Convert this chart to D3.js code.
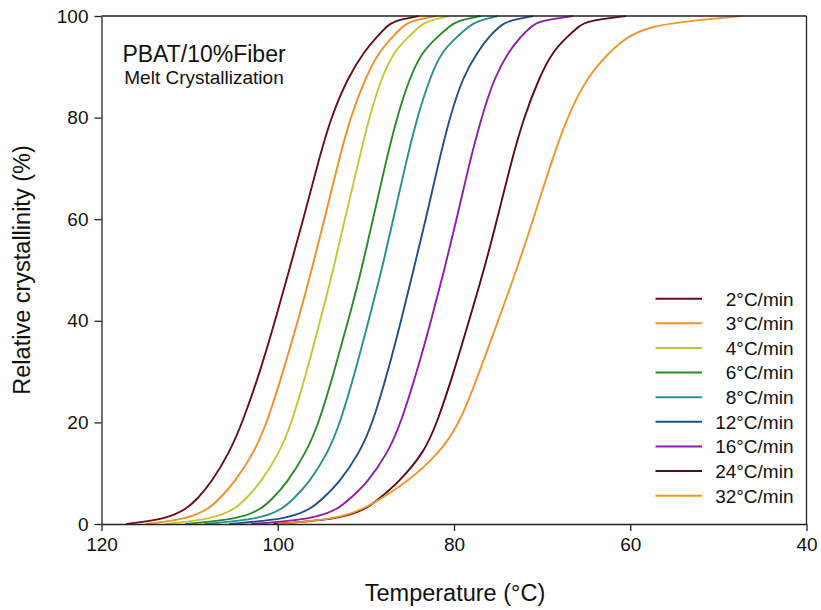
<!DOCTYPE html>
<html>
<head>
<meta charset="utf-8">
<script src="https://cdn.jsdelivr.net/npm/d3@7"></script>
<style>
  html, body { margin: 0; padding: 0; background: #fff; }
  svg { display: block; font-family: "Liberation Sans", Arial, sans-serif; }
</style>
</head>
<body>
<svg id="chart" width="821" height="610"></svg>
<script>
// Relative crystallinity levels (%) at which each cooling-rate curve is sampled
const levels = [0, 1, 3, 5, 8, 14, 20, 30, 40, 50, 60, 70, 80, 88, 93, 96, 98, 99, 100];

// Temperature (°C) reached at each crystallinity level, per cooling rate
const rate2  = [117.2, 112.6, 110.3, 109.1, 107.6, 105.5, 104.0, 102.0, 100.3, 98.7, 97.1, 95.6, 94.0, 92.0, 90.2, 88.7, 87.6, 86.9, 84.0];
const rate3  = [115.0, 110.2, 107.8, 106.6, 105.0, 102.7, 101.2, 99.4, 97.7, 96.15, 94.7, 93.3, 91.8, 90.0, 88.5, 86.9, 85.8, 85.0, 82.0];
const rate4  = [112.8, 107.3, 104.8, 103.6, 102.0, 99.8, 98.4, 96.7, 95.2, 93.7, 92.4, 91.0, 89.65, 88.2, 86.8, 85.1, 83.9, 83.1, 80.5];
const rate6  = [110.5, 104.3, 101.8, 100.6, 99.0, 96.8, 95.3, 93.6, 92.0, 90.5, 89.2, 87.9, 86.5, 85.0, 83.6, 81.8, 80.5, 79.7, 77.0];
const rate8  = [108.3, 101.9, 99.4, 98.2, 96.5, 94.3, 92.9, 91.2, 89.7, 88.2, 86.9, 85.6, 84.2, 82.7, 81.4, 79.6, 78.3, 77.4, 75.0];
const rate12 = [105.5, 98.8, 96.2, 94.9, 93.1, 90.7, 89.2, 87.5, 86.0, 84.6, 83.2, 81.9, 80.5, 79.0, 77.3, 76.0, 74.8, 74.0, 71.0];
const rate16 = [103.0, 95.8, 93.1, 91.8, 89.9, 87.5, 86.0, 84.2, 82.6, 81.1, 79.7, 78.4, 76.9, 75.4, 73.8, 72.4, 71.2, 70.4, 66.5];
const rate24 = [100.5, 92.8, 89.9, 88.5, 86.4, 83.4, 81.9, 80.0, 78.3, 76.6, 75.1, 73.7, 72.1, 70.3, 68.8, 67.1, 65.8, 65.0, 60.5];
const rate32 = [100.0, 93.2, 90.2, 88.3, 85.5, 81.6, 79.3, 77.1, 75.0, 72.9, 71.0, 69.2, 67.2, 64.9, 62.3, 60.3, 57.6, 53.5, 47.3];

const seriesNames = ["2°C/min", "3°C/min", "4°C/min", "6°C/min", "8°C/min",
                     "12°C/min", "16°C/min", "24°C/min", "32°C/min"];
const seriesTemps = [rate2, rate3, rate4, rate6, rate8, rate12, rate16, rate24, rate32];
const seriesColors = ["#6b0e1c", "#f0902a", "#c3c832", "#2a8a2a", "#27908e",
                      "#1f4f86", "#8e1ea6", "#5e0a18", "#f0962c"];

const xTicks = [120, 100, 80, 60, 40];
const yTicks = [0, 20, 40, 60, 80, 100];

const svg = d3.select("#chart");
const plotLeft = 101.5, plotRight = 806.5, plotTop = 16, plotBottom = 524;

const x = d3.scaleLinear().domain([120, 40]).range([plotLeft, plotRight]);
const y = d3.scaleLinear().domain([0, 100]).range([plotBottom, plotTop]);

svg.append("rect").attr("width", 821).attr("height", 610).attr("fill", "#fff");

// Curves: smooth B-spline through the sampled points
const line = d3.line()
  .x(d => x(d[0]))
  .y(d => y(d[1]))
  .curve(d3.curveBasis);

const curves = svg.append("g").attr("fill", "none").attr("stroke-width", 1.9);
seriesTemps.forEach((temps, i) => {
  const pts = temps.map((t, j) => [t, levels[j]]);
  curves.append("path")
    .attr("d", line(pts))
    .attr("stroke", seriesColors[i]);
});

// Frame (top and right edges)
svg.append("line").attr("x1", plotLeft).attr("x2", plotRight).attr("y1", plotTop).attr("y2", plotTop)
  .attr("stroke", "#222").attr("stroke-width", 1.3);
svg.append("line").attr("x1", plotRight).attr("x2", plotRight).attr("y1", plotTop).attr("y2", plotBottom)
  .attr("stroke", "#222").attr("stroke-width", 1.3);

// Axes
const xAxis = svg.append("g")
  .attr("transform", `translate(0,${plotBottom})`)
  .call(d3.axisBottom(x).tickValues(xTicks).tickSizeInner(7).tickSizeOuter(0).tickPadding(7));
const yAxis = svg.append("g")
  .attr("transform", `translate(${plotLeft},0)`)
  .call(d3.axisLeft(y).tickValues(yTicks).tickSizeInner(7).tickSizeOuter(0).tickPadding(6));

[xAxis, yAxis].forEach(g => {
  g.select(".domain").attr("stroke", "#222").attr("stroke-width", 1.3);
  g.selectAll(".tick line").attr("stroke", "#222").attr("stroke-width", 1.3);
  g.selectAll(".tick text")
    .attr("fill", "#111")
    .style("font-size", "19px")
    .style("font-family", "'Liberation Sans', Arial, sans-serif");
});

// Axis titles
svg.append("text")
  .attr("x", 455).attr("y", 601)
  .attr("text-anchor", "middle")
  .style("font-size", "23.5px").attr("fill", "#111")
  .text("Temperature (°C)");

svg.append("text")
  .attr("transform", "translate(30,270) rotate(-90)")
  .attr("text-anchor", "middle")
  .style("font-size", "23.5px").attr("fill", "#111")
  .text("Relative crystallinity (%)");

// Sample annotation
svg.append("text")
  .attr("x", 204).attr("y", 61.5)
  .attr("text-anchor", "middle")
  .style("font-size", "23px").attr("fill", "#111")
  .text("PBAT/10%Fiber");
svg.append("text")
  .attr("x", 204).attr("y", 84)
  .attr("text-anchor", "middle")
  .style("font-size", "19px").attr("fill", "#111")
  .text("Melt Crystallization");

// Legend
const legend = svg.append("g");
seriesNames.forEach((name, i) => {
  const ly = 298.7 + i * 24.62;
  legend.append("line")
    .attr("x1", 655.5).attr("x2", 702).attr("y1", ly).attr("y2", ly)
    .attr("stroke", seriesColors[i]).attr("stroke-width", 2);
  legend.append("text")
    .attr("x", 793.5).attr("y", ly).attr("dy", "0.36em")
    .attr("text-anchor", "end")
    .style("font-size", "19px").attr("fill", "#111")
    .text(name);
});
</script>
</body>
</html>
